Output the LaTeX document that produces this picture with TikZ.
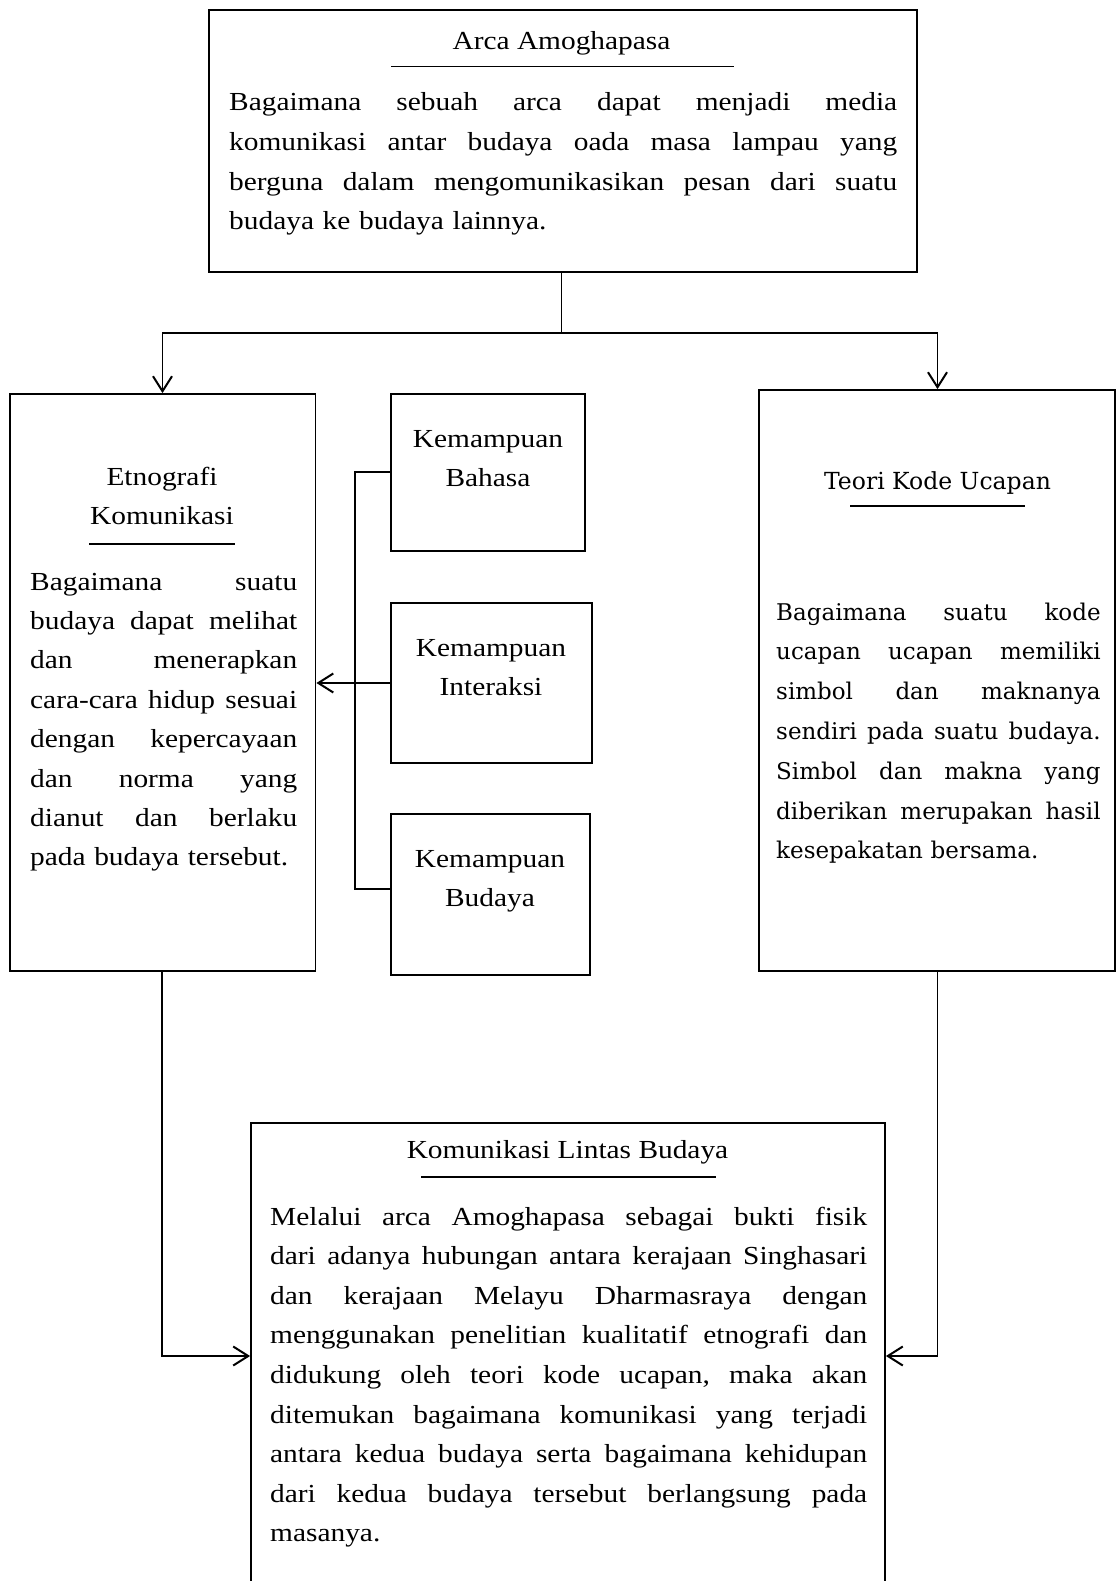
\documentclass[tikz,border=0pt]{standalone}
\usepackage{fontspec}
\setmainfont[FakeStretch=1.13]{Liberation Serif}
\newfontfamily\dejaserif{DejaVu Serif}
\usetikzlibrary{arrows.meta}
\makeatletter
\newcommand\jw{300pt}
\def\jl#1{\leavevmode\hbox to \jw{\jl@a#1 \relax}}
\def\jl@a#1 #2\relax{#1\ifx\relax#2\relax\expandafter\@gobble\else\expandafter\@firstofone\fi{\ \hfill\jl@a#2\relax}}
\makeatother
\tikzset{
  box/.style={draw, line width=1.8pt, inner sep=0pt},
  conn/.style={line width=1.8pt},
  arr/.style={conn, -{Straight Barb[length=15pt,width=19pt,line width=2pt]}},
  uline/.style={line width=1.8pt},
  ttl/.style={font=\fontsize{26}{39}\selectfont, inner sep=0pt, anchor=base, align=center},
  body/.style={font=\fontsize{26}{39.6}\selectfont, inner sep=0pt, anchor=base west, align=left},
  tbody/.style={font=\dejaserif\fontsize{23}{39.8}\selectfont, inner sep=0pt, anchor=base west, align=left},
  tttl/.style={font=\dejaserif\fontsize{23.5}{39}\selectfont, inner sep=0pt, anchor=base},
  jwidth/.style={text width=#1, execute at begin node={\def\jw{#1}}}
}
\begin{document}
\begin{tikzpicture}[x=1pt,y=-1pt]
\useasboundingbox (0,0) rectangle (1117,1581);
\clip (0,0) rectangle (1117,1581);
% boxes
\node[box, minimum width=708, minimum height=262] (top) at (563,141) {};
\node[box, minimum width=305.5, minimum height=577] (etno) at (162.75,682.5) {};
\node[box, minimum width=194, minimum height=157] (bahasa) at (488,472.5) {};
\node[box, minimum width=201, minimum height=160] (interaksi) at (491.5,683) {};
\node[box, minimum width=199, minimum height=161] (budaya) at (490.5,894.5) {};
\node[box, minimum width=356, minimum height=581] (teori) at (937,680.5) {};
\node[box, minimum width=634, minimum height=497] (bottom) at (568,1371.5) {};
% top box text
\node[ttl] (toptitle) at (561.5,50) {Arca Amoghapasa};
\draw[uline] (391,66.5) -- (734,66.5);
\node[body, jwidth=668pt] (topbody) at (229,111) {\jl{Bagaimana sebuah arca dapat menjadi media}\\
\jl{komunikasi antar budaya oada masa lampau yang}\\
\jl{berguna dalam mengomunikasikan pesan dari suatu}\\
budaya ke budaya lainnya.};
% etnografi (base anchor = last line)
\node[ttl] (etnotitle) at (162,524) {Etnografi\\Komunikasi};
\draw[uline] (89,544) -- (235,544);
\node[body, jwidth=267pt, font=\fontsize{26}{39.4}\selectfont] (etnobody) at (30,590) {\jl{Bagaimana suatu}\\
\jl{budaya dapat melihat}\\
\jl{dan menerapkan}\\
\jl{cara-cara hidup sesuai}\\
\jl{dengan kepercayaan}\\
\jl{dan norma yang}\\
\jl{dianut dan berlaku}\\
pada budaya tersebut.};
% kemampuan (base anchor = last line)
\node[ttl] (bahasatext) at (488,486) {Kemampuan\\Bahasa};
\node[ttl] (interaksitext) at (491,695.5) {Kemampuan\\Interaksi};
\node[ttl] (budayatext) at (490,906) {Kemampuan\\Budaya};
% teori
\node[tttl] (teorititle) at (937.5,489) {Teori Kode Ucapan};
\draw[uline] (850,506) -- (1025,506);
\node[tbody, jwidth=324.5pt] (teoribody) at (776,620) {\jl{Bagaimana suatu kode}\\
\jl{ucapan ucapan memiliki}\\
\jl{simbol dan maknanya}\\
\jl{sendiri pada suatu budaya.}\\
\jl{Simbol dan makna yang}\\
\jl{diberikan merupakan hasil}\\
kesepakatan bersama.};
% bottom
\node[ttl] (bottomtitle) at (567.5,1158) {Komunikasi Lintas Budaya};
\draw[uline] (421,1177) -- (716,1177);
\node[body, jwidth=597pt] (bottombody) at (270,1225) {\jl{Melalui arca Amoghapasa sebagai bukti fisik}\\
\jl{dari adanya hubungan antara kerajaan Singhasari}\\
\jl{dan kerajaan Melayu Dharmasraya dengan}\\
\jl{menggunakan penelitian kualitatif etnografi dan}\\
\jl{didukung oleh teori kode ucapan, maka akan}\\
\jl{ditemukan bagaimana komunikasi yang terjadi}\\
\jl{antara kedua budaya serta bagaimana kehidupan}\\
\jl{dari kedua budaya tersebut berlangsung pada}\\
masanya.};
% connectors
\coordinate (j) at (561.5,333);
\coordinate (jl) at (162.5,333);
\coordinate (jr) at (937.5,333);
\draw[conn] (top.south -| j) -- (j);
\draw[arr] (j) -- (jl) -- (jl |- etno.north);
\draw[arr] (j) -- (jr) -- (jr |- teori.north);
\coordinate (bt) at (355,472);
\coordinate (bb) at (355,889);
\draw[conn] (bahasa.west |- bt) -- (bt) -- (bb) -- (budaya.west |- bb);
\draw[arr] (interaksi.west) -- (interaksi.west -| etno.east);
\coordinate (bl) at (162,1356);
\coordinate (br) at (937.5,1356);
\draw[arr] (etno.south -| bl) -- (bl) -- (bottom.west |- bl);
\draw[arr] (teori.south -| br) -- (br) -- (bottom.east |- br);
\end{tikzpicture}
\end{document}
